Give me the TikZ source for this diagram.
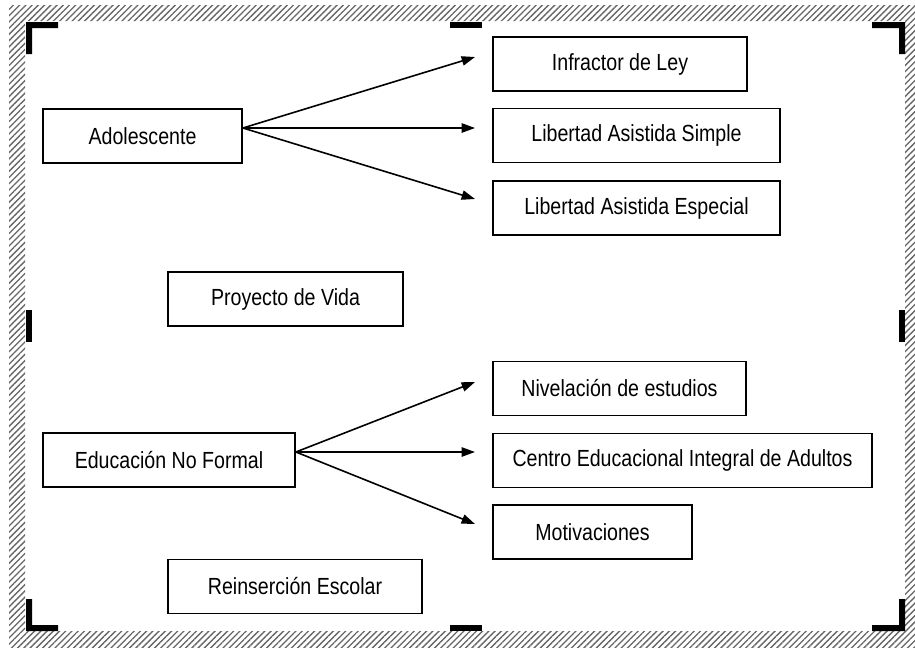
\documentclass[tikz,border=0pt]{standalone}
\usepackage{fontspec}
\setmainfont{Liberation Sans}[FakeStretch=0.84]
\usetikzlibrary{arrows.meta,patterns.meta,calc}
\tikzset{
  box/.style={draw=black, line width=1.3pt, inner sep=0pt, minimum height=40.5pt,
    font=\fontsize{17.5pt}{20pt}\selectfont, anchor=center},
  arr/.style={line width=1.2pt, -{Triangle[length=10pt,width=7pt]}},
  handle/.style={fill=black, draw=none},
  hatch/.style={pattern={Lines[angle=45,distance=3.3pt,line width=1pt]}, pattern color=black!60, draw=none}
}
\begin{document}
\begin{tikzpicture}[x=0.75pt,y=-0.75pt]
\useasboundingbox (0,0) rectangle (915,647);
% hatched frame
\path[hatch, even odd rule] (9,5) rectangle (921,653) (25,21) rectangle (905,631);
% corner brackets
\fill[handle] (26,22) -- (58,22) -- (58,28) -- (32,28) -- (32,54) -- (26,54) -- cycle;
\fill[handle] (872,22) -- (905,22) -- (905,54) -- (899,54) -- (899,28) -- (872,28) -- cycle;
\fill[handle] (26,599) -- (32,599) -- (32,625) -- (58,625) -- (58,631) -- (26,631) -- cycle;
\fill[handle] (899,599) -- (905,599) -- (905,631) -- (872,631) -- (872,625) -- (899,625) -- cycle;
% mid handles
\fill[handle] (450,22) rectangle (482,28);
\fill[handle] (450,625) rectangle (482,631);
\fill[handle] (26,310) rectangle (32,342);
\fill[handle] (899,310) rectangle (905,342);
% boxes
\node[box, minimum width=149.25pt] (ado) at (142.5,136) {Adolescente};
\node[box, minimum width=190.5pt] (inf) at (620,64) {Infractor de Ley};
\node[box, minimum width=215.25pt] (lss) at (636.5,135.5) {Libertad Asistida Simple};
\node[box, minimum width=215.25pt] (lse) at (636.5,208) {Libertad Asistida Especial};
\node[box, minimum width=176.25pt] (pro) at (285.5,299) {Proyecto de Vida};
\node[box, minimum width=189pt] (edu) at (169,460) {Educación No Formal};
\node[box, minimum width=189.75pt] (niv) at (619.5,388.5) {Nivelación de estudios};
\node[box, minimum width=284.25pt] (cen) at (682.5,460.5) {Centro Educacional Integral de Adultos};
\node[box, minimum width=149.25pt] (mot) at (592.5,532) {Motivaciones};
\node[box, minimum width=190.5pt] (rei) at (295,586.5) {Reinserción Escolar};
% connector points
\coordinate (a0) at ($(ado.east)+(0,-8)$);
\coordinate (a1) at (475,57);
\coordinate (a2) at (475,128);
\coordinate (a3) at (475,199);
\coordinate (e0) at ($(edu.east)+(0,-8)$);
\coordinate (e1) at (475,382);
\coordinate (e2) at (475,452);
\coordinate (e3) at (475,524);
\draw[arr] (a0) -- (a1);
\draw[arr] (a0) -- (a2);
\draw[arr] (a0) -- (a3);
\draw[arr] (e0) -- (e1);
\draw[arr] (e0) -- (e2);
\draw[arr] (e0) -- (e3);
\end{tikzpicture}
\end{document}
